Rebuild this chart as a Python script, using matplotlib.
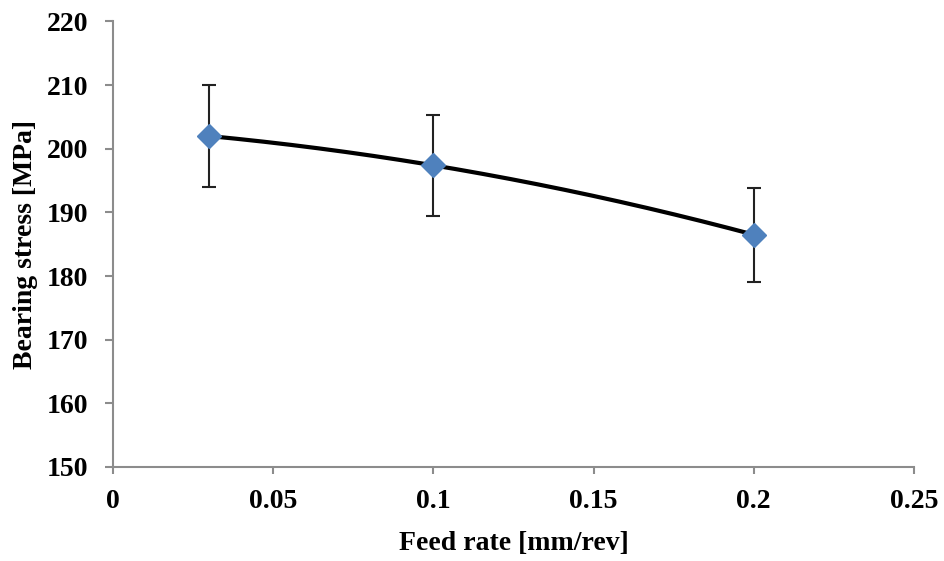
import numpy as np
import matplotlib
matplotlib.use("Agg")
import matplotlib.pyplot as plt

# data
feed = [0.03, 0.1, 0.2]
stress = [202.0, 197.4, 186.5]
err = [8.0, 7.9, 7.4]

xticks = [0, 0.05, 0.1, 0.15, 0.2, 0.25]
xticklabels = ["0", "0.05", "0.1", "0.15", "0.2", "0.25"]
yticks = [150, 160, 170, 180, 190, 200, 210, 220]

plt.rcParams['font.family'] = ['Liberation Serif', 'DejaVu Serif']
plt.rcParams['font.weight'] = 'bold'

fig = plt.figure(figsize=(9.44, 5.61), dpi=100)
ax = fig.add_axes([0.1197, 0.1676, 0.8485, 0.7941])

# trend curve (2nd order polynomial through the points)
coef = np.polyfit(feed, stress, 2)
xs = np.linspace(min(feed), max(feed), 200)
ax.plot(xs, np.polyval(coef, xs), color='black', linewidth=3, zorder=2)

ax.errorbar(feed, stress, yerr=err, fmt='none', ecolor='#222222',
            elinewidth=1.5, capsize=5, capthick=1.5, zorder=3)
ax.plot(feed, stress, linestyle='none', marker='D', markersize=12.5,
        color='#4F81BD', zorder=4)

ax.set_xlim(0, 0.25)
ax.set_ylim(150, 220)
ax.set_xticks(xticks)
ax.set_xticklabels(xticklabels)
ax.set_yticks(yticks)

for s in ['top', 'right']:
    ax.spines[s].set_visible(False)
for s in ['left', 'bottom']:
    ax.spines[s].set_color('#8c8c8c')
    ax.spines[s].set_linewidth(1.5)

ax.tick_params(axis='y', direction='out', length=5.8, width=1.5, color='#8c8c8c',
               labelsize=20, pad=12)
ax.tick_params(axis='x', direction='out', length=5, width=1.5, color='#8c8c8c',
               labelsize=20, pad=11)

ax.set_xlabel('Feed rate [mm/rev]', fontsize=20, fontweight='bold', labelpad=12)
ax.set_ylabel('Bearing stress [MPa]', fontsize=20, fontweight='bold', labelpad=6)

fig.savefig('out.png', dpi=100)
